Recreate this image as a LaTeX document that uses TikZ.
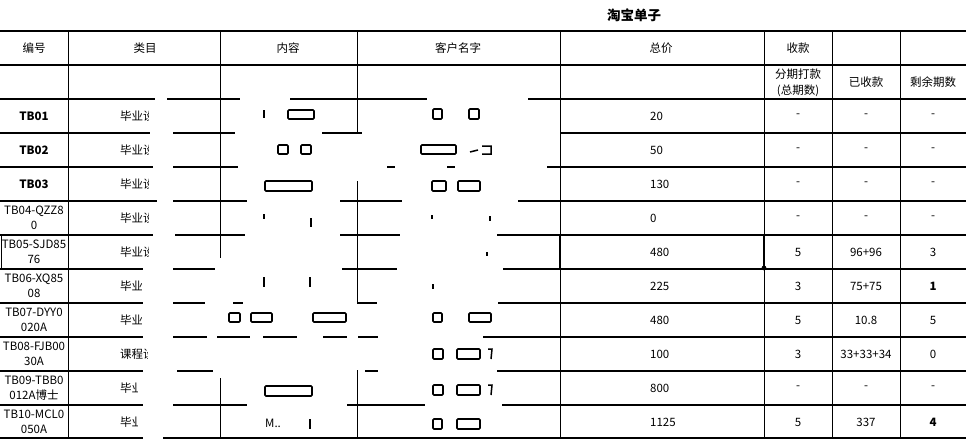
\documentclass[tikz,border=0pt]{standalone}
\usepackage{fontspec}
\setmainfont{Noto Sans CJK SC}
\newfontfamily\cjk{Noto Sans CJK SC}
\begin{document}
\begin{tikzpicture}[x=1pt,y=-1pt,
  hl/.style={line width=1.9pt},
  vl/.style={line width=0.9pt},
  txt/.style={inner sep=0pt,font=\cjk\fontsize{11.5}{15.5}\selectfont,text=black,align=center},
  btxt/.style={txt,font=\cjk\bfseries\fontsize{11.5}{15.5}\selectfont},
  frag/.style={draw,line width=1.6pt,rounded corners=1pt},
  tick/.style={line width=1.5pt}]
\useasboundingbox (0,0) rectangle (966,439);
\fill[white] (0,0) rectangle (966,439);
% title
\node[txt,font=\cjk\bfseries\fontsize{13.5}{15}\selectfont] (title) at (634,15) {淘宝单子};
% header texts
\node[txt] (h1) at (34,48) {编号};
\node[txt] (h2) at (145,48) {类目};
\node[txt] (h3) at (288,48) {内容};
\node[txt] (h4) at (458,48) {客户名字};
\node[txt] (h5) at (661,48) {总价};
\node[txt] (h6) at (798,48) {收款};
\node[txt] (h7) at (798,83) {分期打款\\(总期数)};
\node[txt] (h8) at (866,82) {已收款};
\node[txt] (h9) at (933,82) {剩余期数};
% id column
\node[btxt] (id1) at (34,116) {TB01};
\node[btxt] (id2) at (34,150) {TB02};
\node[btxt] (id3) at (34,184) {TB03};
\node[txt] (id4) at (34,218) {TB04-QZZ8\\0};
\node[txt] (id5) at (34,252) {TB05-SJD85\\76};
\node[txt] (id6) at (34,286) {TB06-XQ85\\08};
\node[txt] (id7) at (34,320) {TB07-DYY0\\020A};
\node[txt] (id8) at (34,354) {TB08-FJB00\\30A};
\node[txt] (id9) at (34,388) {TB09-TBB0\\012A博士};
\node[txt] (id10) at (34,422) {TB10-MCL0\\050A};
% category column (partly hidden)
\foreach \yy/\cut/\word [count=\i] in {116/148/毕业设计,150/148/毕业设计,184/148/毕业设计,218/148/毕业设计,252/148/毕业设计,286/141/毕业设计,320/141/毕业设计,354/147/课程设计,388/137/毕业设计,422/137/毕业设计}{
  \begin{scope}
    \clip (100,\yy-10) rectangle (\cut,\yy+10);
    \node[txt,anchor=west] (cat\i) at (120,\yy) {\word};
  \end{scope}
}
% price column
\foreach \yy/\v [count=\i] in {116/20,150/50,184/130,218/0,252/480,286/225,320/480,354/100,388/800,422/1125}{
  \node[txt,anchor=west] (p\i) at (650,\yy) {\v};
}
% instalments
\foreach \yy/\a/\b [count=\i] in {116/-/-,150/-/-,184/-/-,218/-/-,252/5/96+96,286/3/75+75,320/5/10.8,354/3/33+33+34,388/-/-,422/5/337}{
  \node[txt] (n\i) at (798,\yy) {\a};
  \node[txt] (r\i) at (866,\yy) {\b};
}
\foreach \yy/\c [count=\i] in {116/-,150/-,184/-,218/-,252/3,320/5,354/0,388/-}{
  \node[txt] (s\i) at (933,\yy) {\c};
}
\node[btxt] (s9) at (933,286) {1};
\node[btxt] (s10) at (933,422) {4};
% remnants of hidden text
\node[txt,anchor=west] (m10) at (265,423) {M..};
\draw[frag] (288,110) rectangle (314,119);
\draw[tick] (264,110)--(264,118);
\draw[frag] (278,145) rectangle (288,154);
\draw[frag] (301,145) rectangle (311,154);
\draw[frag] (265,181) rectangle (312,191);
\draw[tick] (264,214)--(264,219) (311,218)--(311,227);
\draw[frag] (433,109) rectangle (442,119);
\draw[frag] (469,109) rectangle (479,119);
\draw[frag] (421,145) rectangle (456,154);
\draw[tick] (470,152)--(478,150) (482,146)--(491,146)--(491,154)--(482,154);
\draw[frag] (432,181) rectangle (446,191);
\draw[frag] (458,181) rectangle (480,191);
\draw[tick] (432,215)--(432,219) (490,216)--(490,221) (487,252)--(487,256);
\draw[tick] (264,277)--(264,287) (310,277)--(310,287) (433,284)--(433,289);
\draw[frag] (229,313) rectangle (240,322);
\draw[frag] (251,313) rectangle (272,322);
\draw[frag] (313,313) rectangle (346,322);
\draw[frag] (433,313) rectangle (442,322);
\draw[frag] (469,313) rectangle (491,322);
\draw[frag] (433,349) rectangle (443,359);
\draw[frag] (457,349) rectangle (480,359);
\draw[tick] (488,349)--(492,349)--(491,359);
\draw[frag] (265,386) rectangle (312,396);
\draw[frag] (433,385) rectangle (443,395);
\draw[frag] (457,385) rectangle (480,395);
\draw[tick] (488,385)--(492,385)--(491,395);
\draw[tick] (310,419)--(310,429);
\draw[frag] (433,419) rectangle (442,429);
\draw[frag] (457,419) rectangle (480,429);
% horizontal rules
\draw[hl] (0,31)--(966,31);
\draw[hl] (0,65)--(966,65);
\draw[hl] (0,99)--(155,99) (167,99)--(240,99) (290,99)--(427,99) (528,99)--(966,99);
\draw[hl] (0,133)--(150,133) (173,133)--(235,133) (322,133)--(362,133) (560,133)--(966,133);
\draw[hl] (0,167)--(153,167) (173,167)--(238,167) (387,167)--(395,167) (447,167)--(455,167) (547,167)--(966,167);
\draw[hl] (0,201)--(157,201) (173,201)--(247,201) (340,201)--(402,201) (518,201)--(966,201);
\draw[hl] (0,235)--(153,235) (175,235)--(245,235) (340,235)--(400,235) (497,235)--(966,235);
\draw[hl] (0,269)--(143,269) (173,269)--(215,269) (342,269)--(397,269) (503,269)--(966,269);
\draw[hl] (0,303)--(143,303) (173,303)--(205,303) (233,303)--(243,303) (357,303)--(377,303) (498,303)--(966,303);
\draw[hl] (0,337)--(143,337) (173,337)--(207,337) (217,337)--(250,337) (263,337)--(297,337) (323,337)--(347,337) (358,337)--(378,337) (483,337)--(966,337);
\draw[hl] (0,371)--(143,371) (177,371)--(213,371) (365,371)--(378,371) (497,371)--(966,371);
\draw[hl] (0,405)--(143,405) (173,405)--(247,405) (347,405)--(425,405) (502,405)--(966,405);
\draw[hl] (0,438)--(143,438) (163,438)--(966,438);
% vertical rules
\draw[vl] (68,31)--(68,438);
\draw[vl] (220,31)--(220,258) (220,378)--(220,438);
\draw[vl] (357,31)--(357,133) (357,181)--(357,303) (357,370)--(357,438);
\draw[vl] (560,31)--(560,438);
\draw[vl] (764,31)--(764,438);
\draw[vl] (832,31)--(832,438);
\draw[vl] (900,31)--(900,438);
% selected cells
\draw[vl] (1,235) rectangle (68,269);
\draw[line width=2.2pt] (560,235)--(560,269) (764,235)--(764,269);
\fill (764,268) circle (2.4pt);
\end{tikzpicture}
\end{document}
